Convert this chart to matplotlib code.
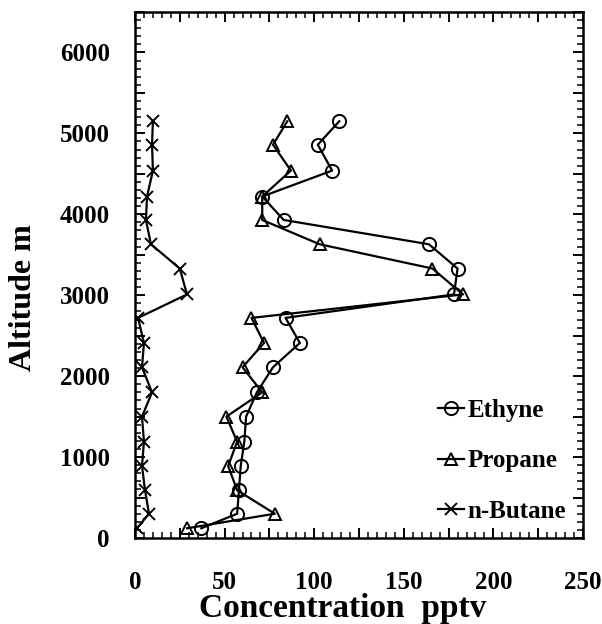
import matplotlib
matplotlib.use("Agg")
import matplotlib.pyplot as plt
from matplotlib.ticker import MultipleLocator, FuncFormatter

# Vertical profiles of light hydrocarbons (pptv) against altitude (m)
altitude = [5150, 4860, 4540, 4220, 3930, 3630, 3330, 3010, 2720,
            2410, 2110, 1800, 1500, 1190, 890, 590, 300, 120]
ethyne = [114, 102, 110, 71, 83, 164, 180, 178, 84,
          92, 77, 68, 62, 61, 59, 58, 57, 37]
propane = [85, 77, 87, 71, 71, 103, 166, 183, 65,
           72, 60, 71, 51, 57, 52, 57, 78, 29]
butane = [10, 9.5, 10, 6.7, 6.1, 8.9, 25, 29, 1.7,
          5, 3.9, 9.5, 3.9, 5, 3.9, 5.6, 7.8, 1.1]

x_ticks = [0, 50, 100, 150, 200, 250]
y_ticks = [0, 1000, 2000, 3000, 4000, 5000, 6000]

plt.rcParams['font.family'] = ['Liberation Serif', 'DejaVu Serif']
plt.rcParams['font.weight'] = 'bold'

W, H = 602, 624
fig = plt.figure(figsize=(W / 100, H / 100), dpi=100)
left, right, top, bottom = 135, 583, 12, 538
ax = fig.add_axes([left / W, (H - bottom) / H, (right - left) / W, (bottom - top) / H])

lw = 1.6
ax.plot(ethyne, altitude, color='black', lw=lw, marker='o', ms=9.5,
        mfc='none', mec='black', mew=1.4, label='Ethyne')
ax.plot(propane, altitude, color='black', lw=lw, marker='^', ms=8.5,
        mfc='none', mec='black', mew=1.4, label='Propane')
ax.plot(butane, altitude, color='black', lw=lw, marker='x', ms=9,
        mec='black', mew=1.4, label='n-Butane')

ax.set_xlim(0, 250)
ax.set_ylim(0, 6500)

ax.xaxis.set_major_locator(MultipleLocator(25))
ax.xaxis.set_minor_locator(MultipleLocator(5))
ax.yaxis.set_major_locator(MultipleLocator(500))
ax.yaxis.set_minor_locator(MultipleLocator(100))
ax.xaxis.set_major_formatter(FuncFormatter(
    lambda v, p: f"{int(round(v))}" if int(round(v)) in x_ticks else ""))
ax.yaxis.set_major_formatter(FuncFormatter(
    lambda v, p: f"{int(round(v))}" if int(round(v)) in y_ticks else ""))

ax.tick_params(which='both', direction='in', top=True, right=True)
ax.tick_params(which='major', length=7, width=1.4)
ax.tick_params(which='minor', length=4, width=1.1)
ax.tick_params(axis='x', which='major', pad=24, labelsize=18)
ax.tick_params(axis='y', which='major', pad=18, labelsize=18)
for lab in ax.get_xticklabels() + ax.get_yticklabels():
    lab.set_fontweight('bold')

for sp in ax.spines.values():
    sp.set_linewidth(1.8)

ax.set_xlabel('Concentration  pptv', fontsize=24, fontweight='bold',
              va='center', ha='center')
ax.xaxis.set_label_coords((343 - left) / (right - left), (bottom - 608) / (bottom - top))
ax.set_ylabel('Altitude m', fontsize=23, fontweight='bold',
              va='center', ha='center')
ax.yaxis.set_label_coords((24 - left) / (right - left), (bottom - 298) / (bottom - top))

leg = ax.legend(loc='upper left',
                bbox_to_anchor=((438 - left) / (right - left), (bottom - 399) / (bottom - top)),
                frameon=False, handlelength=1.05, handletextpad=0.12,
                labelspacing=1.1, borderpad=0, borderaxespad=0,
                prop={'weight': 'bold', 'size': 18})

fig.savefig('out.png', dpi=100)
